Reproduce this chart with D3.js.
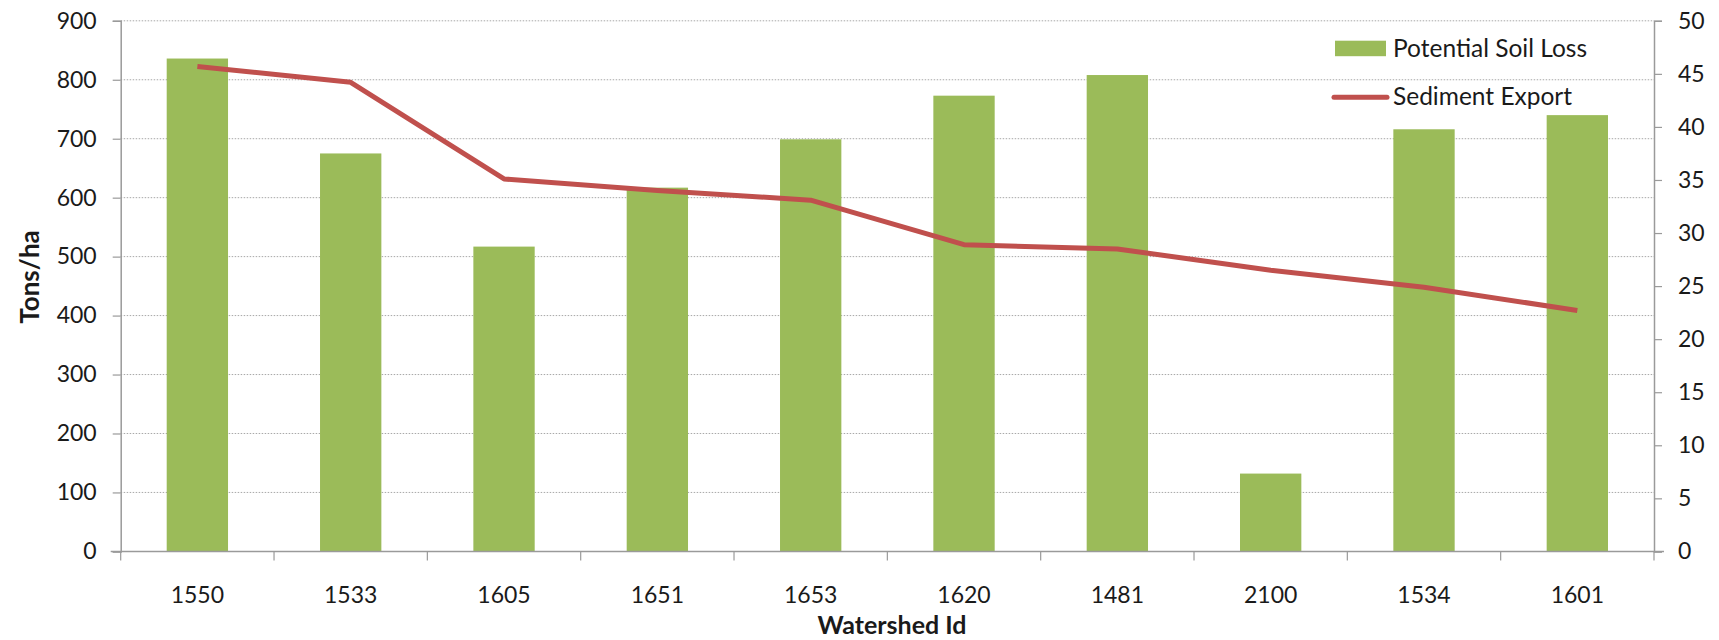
<!DOCTYPE html>
<html>
<head>
<meta charset="utf-8">
<script src="https://cdn.jsdelivr.net/npm/d3@7"></script>
<style>
  html, body { margin: 0; padding: 0; background: #fff; }
  svg { display: block; }
  text { font-family: Lato, "Open Sans", sans-serif; fill: #1a1a1a; }
</style>
</head>
<body>
<svg id="chart" width="1719" height="640"></svg>
<script>
// Watershed identifiers along the x axis
const watersheds = ["1550", "1533", "1605", "1651", "1653", "1620", "1481", "2100", "1534", "1601"];
// Potential soil loss (Tons/ha, left axis)
const soilLoss = [836, 675, 517, 617, 699, 773, 808, 132, 716, 740];
// Sediment export (right axis)
const sedimentExport = [45.7, 44.2, 35.1, 34.0, 33.1, 28.9, 28.5, 26.5, 24.9, 22.7];
// Axis ticks
const leftTicks = [0, 100, 200, 300, 400, 500, 600, 700, 800, 900];
const rightTicks = [0, 5, 10, 15, 20, 25, 30, 35, 40, 45, 50];

const svg = d3.select("#chart");
const plotLeft = 120.7, plotRight = 1654, plotTop = 20.8, plotBottom = 551.4;
const axisColor = "#9a9a9a";

const x = d3.scaleBand().domain(watersheds).range([plotLeft, plotRight])
  .paddingInner(0.6).paddingOuter(0.3);
const xStep = d3.scaleBand().domain(watersheds).range([plotLeft, plotRight]);
const yL = d3.scaleLinear().domain([0, 900]).range([plotBottom, plotTop]);
const yR = d3.scaleLinear().domain([0, 50]).range([plotBottom, plotTop]);

// Dotted horizontal gridlines from the left axis
svg.append("g").selectAll("line").data(leftTicks.filter(d => d > 0)).join("line")
  .attr("x1", plotLeft).attr("x2", plotRight)
  .attr("y1", d => yL(d)).attr("y2", d => yL(d))
  .attr("stroke", "#a8a8a8").attr("stroke-width", 1)
  .attr("stroke-dasharray", "1.5,1.5");

// Bars
svg.append("g").selectAll("rect").data(watersheds).join("rect")
  .attr("x", d => x(d)).attr("width", x.bandwidth())
  .attr("y", (d, i) => yL(soilLoss[i]))
  .attr("height", (d, i) => plotBottom - yL(soilLoss[i]))
  .attr("fill", "#9BBB59");

// Left axis
const gL = svg.append("g").attr("transform", `translate(${plotLeft},0)`)
  .call(d3.axisLeft(yL).tickValues(leftTicks).tickSize(8).tickPadding(16));
// Right axis
const gR = svg.append("g").attr("transform", `translate(${plotRight},0)`)
  .call(d3.axisRight(yR).tickValues(rightTicks).tickSize(8).tickPadding(16));
// Bottom axis: ticks at category boundaries
const gB = svg.append("g").attr("transform", `translate(0,${plotBottom})`)
  .call(d3.axisBottom(xStep).tickSize(0).tickPadding(36));
gB.append("g").selectAll("line").data(watersheds.concat(["end"])).join("line")
  .attr("x1", (d, i) => plotLeft + i * xStep.step())
  .attr("x2", (d, i) => plotLeft + i * xStep.step())
  .attr("y1", 0).attr("y2", 9)
  .attr("stroke", axisColor).attr("stroke-width", 1.2);

[gL, gR, gB].forEach(g => {
  g.selectAll(".domain").attr("stroke", axisColor).attr("stroke-width", 1.5);
  g.selectAll(".tick line").attr("stroke", axisColor).attr("stroke-width", 1.2);
  g.selectAll(".tick text").attr("font-size", 23).attr("fill", "#1a1a1a")
    .attr("font-family", "Lato, sans-serif");
});
gB.select(".domain").attr("d", `M${plotLeft - 10},0H${plotRight + 10}`);
gB.selectAll(".tick text").attr("y", 35);

// Sediment export line
const line = d3.line()
  .x((d, i) => x(watersheds[i]) + x.bandwidth() / 2)
  .y(d => yR(d));
svg.append("path").datum(sedimentExport)
  .attr("d", line)
  .attr("fill", "none").attr("stroke", "#C0504D")
  .attr("stroke-width", 5).attr("stroke-linejoin", "round");

// Axis titles
svg.append("text")
  .attr("transform", "translate(39,277) rotate(-90)")
  .attr("text-anchor", "middle")
  .attr("font-size", 26).attr("font-weight", "bold")
  .text("Tons/ha");
svg.append("text")
  .attr("x", 892).attr("y", 634)
  .attr("text-anchor", "middle")
  .attr("font-size", 25).attr("font-weight", "bold")
  .text("Watershed Id");

// Legend
const lg = svg.append("g");
lg.append("rect").attr("x", 1335).attr("y", 40.7).attr("width", 51).attr("height", 15.5)
  .attr("fill", "#9BBB59");
lg.append("text").attr("x", 1393).attr("y", 57).attr("font-size", 24.5)
  .text("Potential Soil Loss");
lg.append("line").attr("x1", 1334).attr("x2", 1387).attr("y1", 97.3).attr("y2", 97.3)
  .attr("stroke", "#C0504D").attr("stroke-width", 5).attr("stroke-linecap", "round");
lg.append("text").attr("x", 1393).attr("y", 105).attr("font-size", 24.5)
  .text("Sediment Export");
</script>
</body>
</html>
